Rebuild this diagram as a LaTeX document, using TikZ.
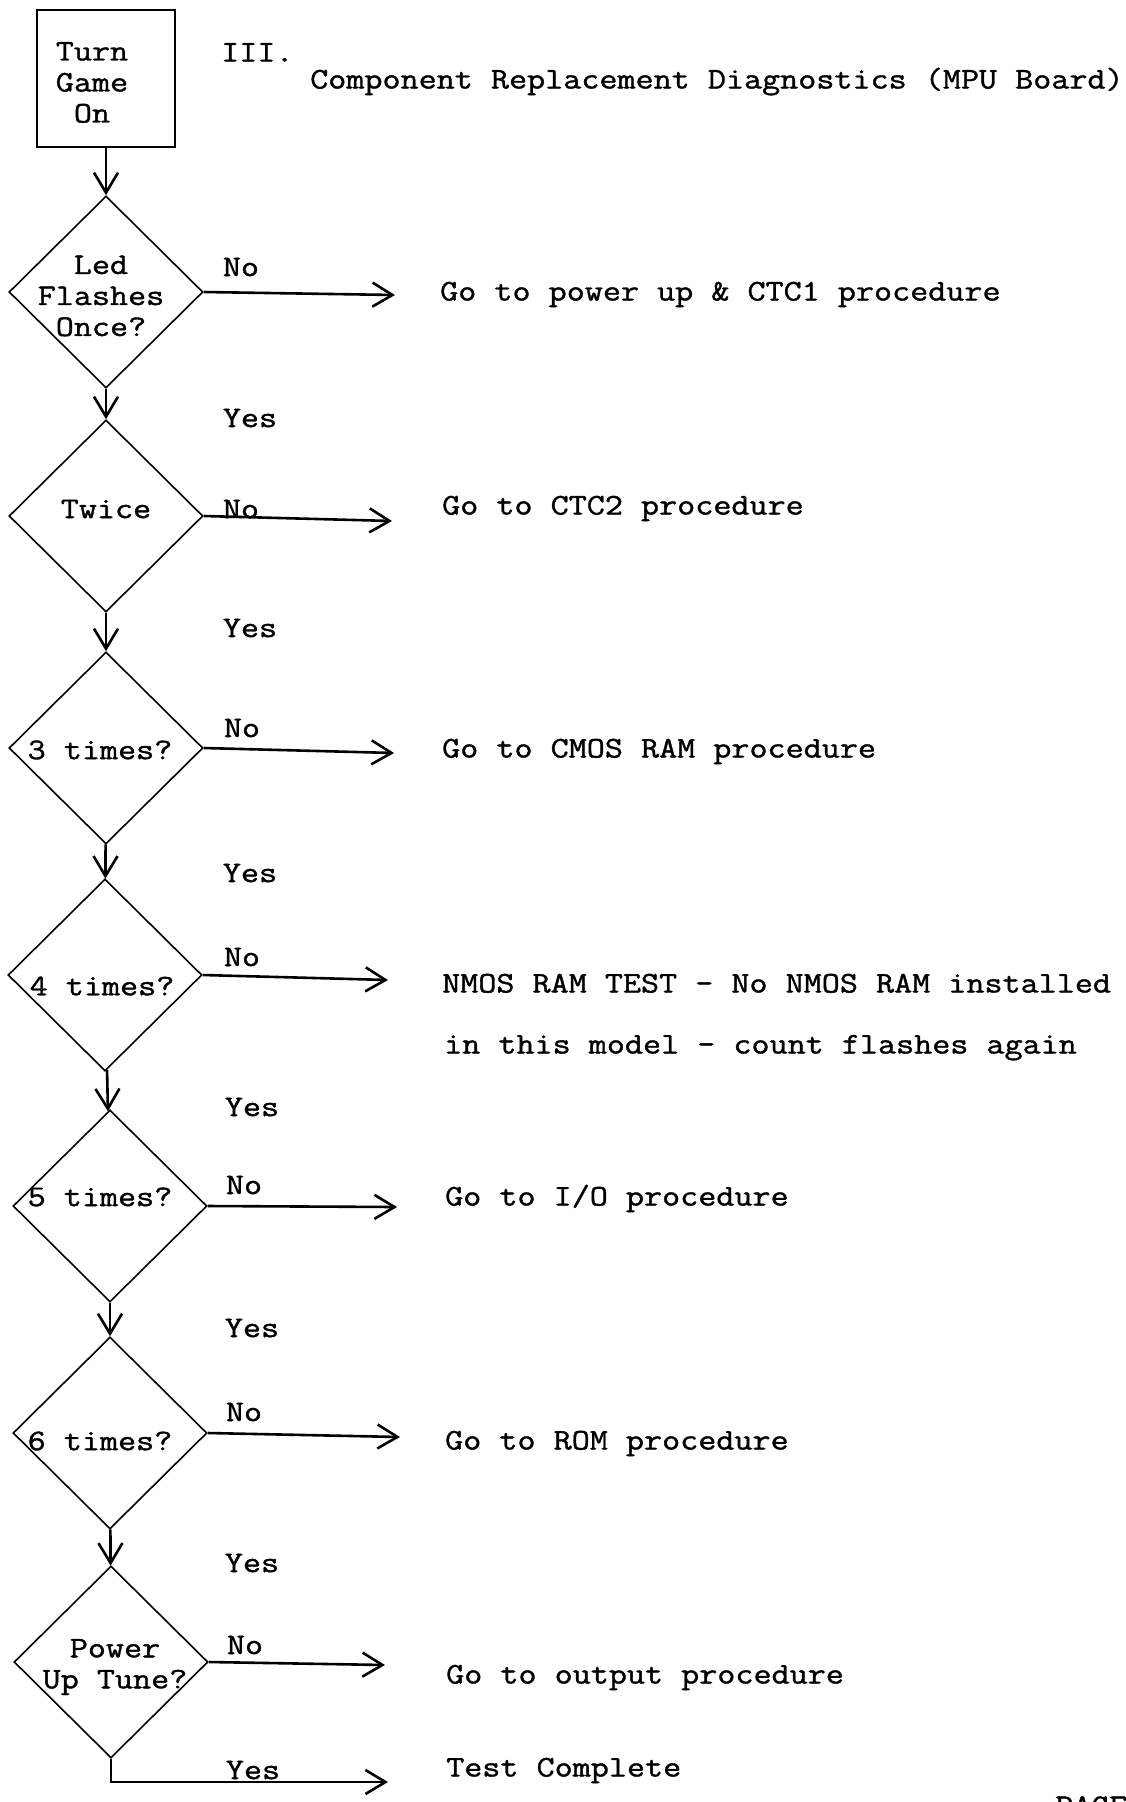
\documentclass[tikz,border=0pt]{standalone}
\usepackage{fontspec}
\setmainfont[FakeStretch=1.17, FakeBold=1.2]{Latin Modern Mono}
\usepackage{tikz}
\usetikzlibrary{shapes,arrows.meta,positioning}
\tikzstyle{startbox} = [draw, line width=1.8pt, rectangle, minimum width=138pt, minimum height=137pt, inner sep=0pt]
\tikzstyle{decision} = [draw, line width=1.6pt, diamond, minimum width=194pt, minimum height=192pt, inner sep=0pt]
\tikzstyle{arrowline} = [line width=2.6pt, -{Straight Barb[length=20pt,width=24pt]}]
\tikzstyle{answer} = [inner sep=0pt, align=center]
\tikzstyle{outcome} = [inner sep=0pt, anchor=base west]

\begin{document}
\begin{tikzpicture}[x=1pt, y=-1pt, font=\fontsize{30}{31}\selectfont]
	\useasboundingbox (0,0) rectangle (1126,1802);

	% heading
	\node [startbox, label={[answer, xshift=-14pt, yshift=-4pt]center:{Turn\\Game\\On}}] (start) at (106,78.5) {};
	\node [outcome] (part) at (221,61.5) {III.};
	\node [outcome] (title) at (310,88.5) {Component Replacement Diagnostics (MPU Board)};

	% the questions
	\node [decision, label={[answer, xshift=-5pt, yshift=-4pt]center:{Led\\Flashes\\Once?}}] (once) at (106,292) {};
	\node [decision, label={[answer, yshift=7pt]center:Twice}] (twice) at (106,516) {};
	\node [decision, label={[answer, xshift=-6pt, yshift=-2pt]center:3 times?}] (three) at (106,748) {};
	\node [decision, label={[answer, xshift=-3pt, yshift=-11pt]center:4 times?}] (four) at (105,975) {};
	\node [decision, label={[answer, xshift=-10pt, yshift=9pt]center:5 times?}] (five) at (110,1206) {};
	\node [decision, label={[answer, xshift=-10pt, yshift=-8pt]center:6 times?}] (six) at (110,1433) {};
	\node [decision, label={[answer, xshift=4pt, yshift=-5pt]center:{Power\\Up Tune?}}] (tune) at (111,1662) {};

	% what to do
	\node [outcome] (pwr) at (440,300.5) {Go to power up \& CTC1 procedure};
	\node [outcome] (ctctwo) at (442,514.5) {Go to CTC2 procedure};
	\node [outcome] (cmos) at (442,757.5) {Go to CMOS RAM procedure};
	\node [outcome] (nmos) at (442,992.5) {NMOS RAM TEST - No NMOS RAM installed};
	\node [outcome] (nmosb) at (444,1053.5) {in this model - count flashes again};
	\node [outcome] (io) at (445,1205.5) {Go to I/O procedure};
	\node [outcome] (rom) at (445,1449.5) {Go to ROM procedure};
	\node [outcome] (outp) at (446,1683.5) {Go to output procedure};
	\node [outcome] (complete) at (446,1776.5) {Test Complete};
	\node [inner sep=0pt, anchor=north west] (page) at (1055,1796) {PAGE};

	% arrow ends
	\coordinate (endpwr) at (395,295);
	\coordinate (endctc) at (392,521);
	\coordinate (endcmos) at (394,753);
	\coordinate (endnmos) at (388,980);
	\coordinate (endio) at (397,1207);
	\coordinate (endrom) at (400,1437);
	\coordinate (endoutp) at (385,1665);
	\coordinate (enddone) at (388,1782);

	% yes / no
	\node [answer] (no1) at (241,267) {No};
	\node [answer] (no2) at (241,509) {No};
	\node [answer] (no3) at (242,728) {No};
	\node [answer] (no4) at (242,957) {No};
	\node [answer] (no5) at (244,1185) {No};
	\node [answer] (no6) at (244,1412) {No};
	\node [answer] (no7) at (245,1645) {No};
	\node [answer] (yes1) at (250,418) {Yes};
	\node [answer] (yes2) at (250,628) {Yes};
	\node [answer] (yes3) at (250,873) {Yes};
	\node [answer] (yes4) at (252,1107) {Yes};
	\node [answer] (yes5) at (252,1328) {Yes};
	\node [answer] (yes6) at (252,1563) {Yes};
	\node [answer] (yes7) at (253,1770) {Yes};

	\draw [arrowline] (start) -- (once);
	\draw [arrowline] (once) -- (twice);
	\draw [arrowline] (twice) -- (three);
	\draw [arrowline] (three) -- (four);
	\draw [arrowline] (four) -- (five);
	\draw [arrowline] (five) -- (six);
	\draw [arrowline] (six) -- (tune);

	\draw [arrowline] (once.east) -- (endpwr);
	\draw [arrowline] (twice.east) -- (endctc);
	\draw [arrowline] (three.east) -- (endcmos);
	\draw [arrowline] (four.east) -- (endnmos);
	\draw [arrowline] (five.east) -- (endio);
	\draw [arrowline] (six.east) -- (endrom);
	\draw [arrowline] (tune.east) -- (endoutp);
	\draw [arrowline] (tune.south) |- (enddone);
\end{tikzpicture}
\end{document}
